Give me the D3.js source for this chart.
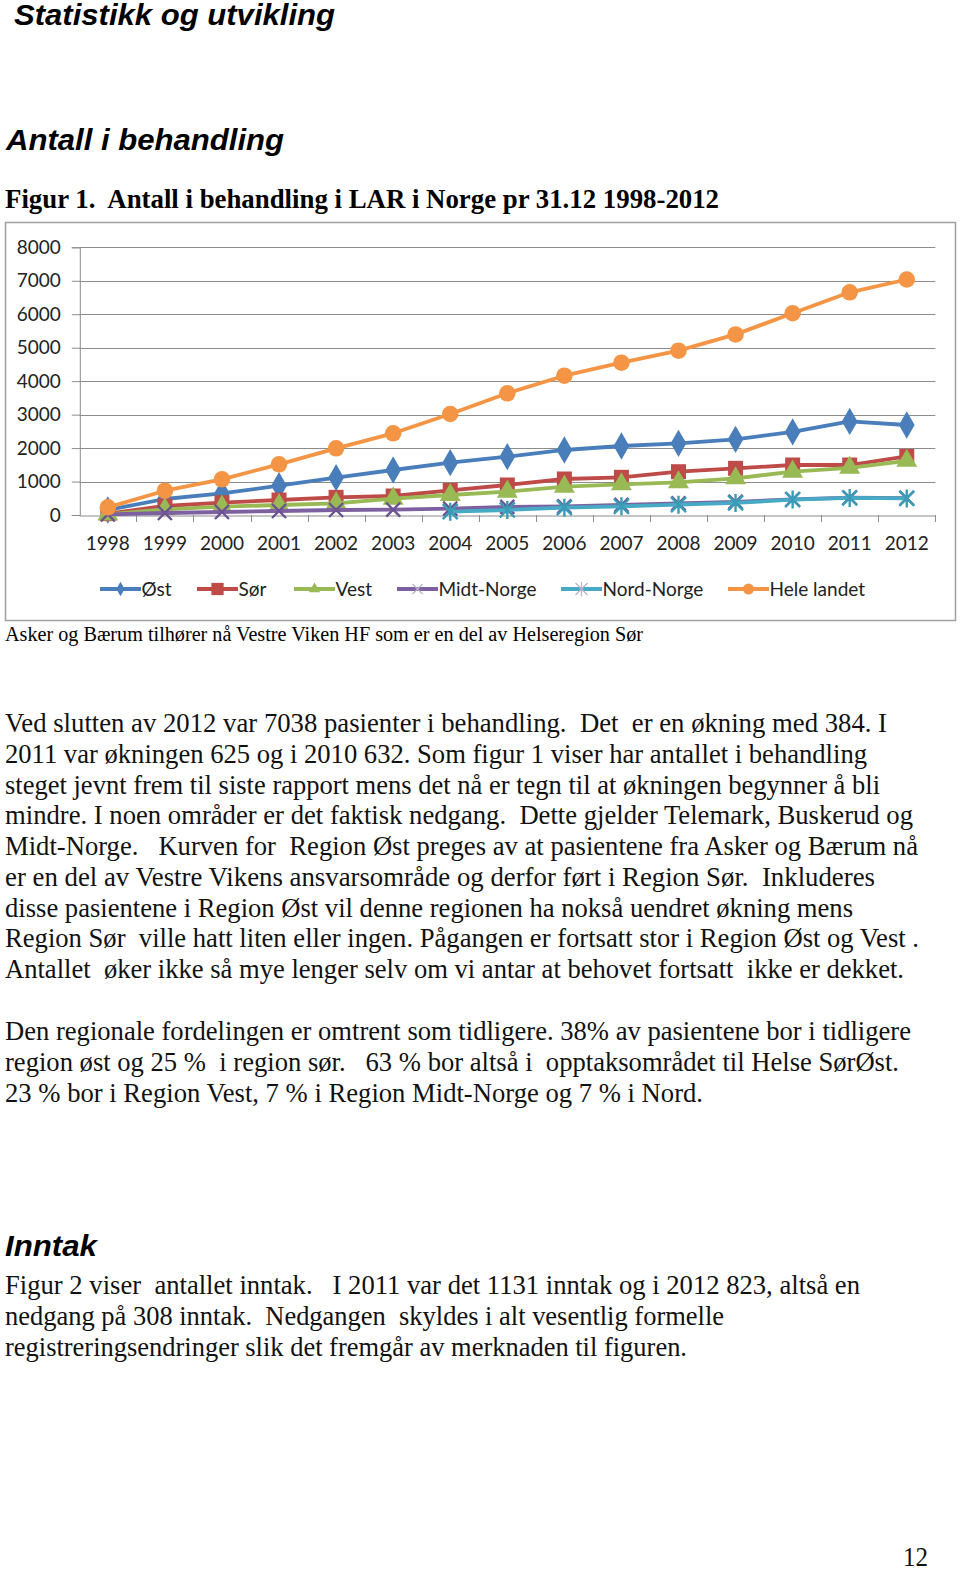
<!DOCTYPE html>
<html><head><meta charset="utf-8">
<script src="https://cdn.jsdelivr.net/npm/d3@7"></script>
<style>
html,body{margin:0;padding:0;background:#fff;}
svg text{white-space:pre;}
</style></head>
<body>
<svg id="page" width="960" height="1573"></svg>
<script>
const years = ["1998","1999","2000","2001","2002","2003","2004","2005","2006","2007","2008","2009","2010","2011","2012"];
const yTicks = [0,1000,2000,3000,4000,5000,6000,7000,8000];
const seriesNames = ["Øst","Sør","Vest","Midt-Norge","Nord-Norge","Hele landet"];
const ost   = [150, 478, 645, 876, 1116, 1345, 1564, 1743, 1943, 2062, 2142, 2261, 2481, 2795, 2690];
const sor   = [40, 269, 368, 448, 528, 568, 737, 897, 1076, 1126, 1294, 1395, 1494, 1494, 1750];
const vest  = [20, 170, 249, 299, 349, 488, 598, 697, 847, 917, 977, 1096, 1294, 1410, 1620];
const midt  = [20, 60, 90, 120, 150, 160, 190, 240, 260, 300, 350, 390, 470, 520, 505];
const nord  = [null, null, null, null, null, null, 100, 150, 220, 260, 310, 360, 460, 510, 495];
const hele  = [230, 726, 1067, 1515, 1993, 2441, 3018, 3637, 4163, 4552, 4910, 5397, 6029, 6654, 7038];

const seriesValues = [ost, sor, vest, midt, nord, hele];
const colors = ["#4A7EBB","#BE4B48","#98B954","#7D60A0","#46AAC5","#F49545"];
const markerColors = ["#4A7EBB","#BE4B48","#98B954","#6B5290","#3A9BB6","#F49545"];
const symbolTypes = ["diamond","square","triangle","x","asterisk","circle"];

const svg = d3.select("#page");

// ---------- headings ----------
svg.append("text").attr("x",14).attr("y",25)
  .attr("font-family","Liberation Sans, Arial, sans-serif").attr("font-weight","bold").attr("font-style","italic")
  .attr("font-size",29).attr("textLength",321).attr("lengthAdjust","spacingAndGlyphs")
  .text("Statistikk og utvikling");
svg.append("text").attr("x",6).attr("y",150)
  .attr("font-family","Liberation Sans, Arial, sans-serif").attr("font-weight","bold").attr("font-style","italic")
  .attr("font-size",29).attr("textLength",278).attr("lengthAdjust","spacingAndGlyphs")
  .text("Antall i behandling");
svg.append("text").attr("x",5).attr("y",208)
  .attr("font-family","Liberation Serif, Times New Roman, serif").attr("font-weight","bold")
  .attr("font-size",27).attr("textLength",714).attr("lengthAdjust","spacingAndGlyphs")
  .text("Figur 1.  Antall i behandling i LAR i Norge pr 31.12 1998-2012");

// ---------- chart frame ----------
svg.append("rect").attr("x",5.5).attr("y",222.5).attr("width",950).attr("height",398)
  .attr("fill","#fff").attr("stroke","#a0a0a0").attr("stroke-width",1.5);

const x = d3.scaleBand().domain(years).range([79.3, 935.3]).padding(0);
const y = d3.scaleLinear().domain([0,8000]).range([515, 247.3]);
const cx = d => x(d) + x.bandwidth()/2;

// gridlines
svg.append("g").selectAll("line").data(yTicks.filter(t=>t>0)).join("line")
  .attr("x1",79.3).attr("x2",935.3).attr("y1",d=>Math.round(y(d))+0.5).attr("y2",d=>Math.round(y(d))+0.5)
  .attr("stroke","#8c8c8c").attr("stroke-width",1);

// y axis
const yAxis = d3.axisLeft(y).tickValues(yTicks).tickSize(8).tickPadding(11).tickFormat(d3.format("d"));
const gy = svg.append("g").attr("transform","translate(79.8,0)").call(yAxis);
gy.selectAll("path,line").attr("stroke","#8c8c8c");
gy.selectAll("text").attr("font-family","Lato, 'Open Sans', sans-serif").attr("font-size",19).attr("fill","#222");

// x axis
const xAxis = d3.axisBottom(x).tickSize(0).tickPadding(21);
const gx = svg.append("g").attr("transform","translate(0,515.5)").call(xAxis);
gx.select("path").attr("stroke","#8c8c8c");
gx.selectAll("text").attr("font-family","Lato, 'Open Sans', sans-serif").attr("font-size",19).attr("fill","#222");
// tick marks between categories
svg.append("g").selectAll("line").data(years.map(d=>x(d)).concat([935.3]).slice(1)).join("line")
  .attr("x1",d=>Math.round(d)+0.5).attr("x2",d=>Math.round(d)+0.5).attr("y1",515).attr("y2",522)
  .attr("stroke","#8c8c8c");

// ---------- markers ----------
function markerPath(type, s) {
  const p = d3.path();
  if (type === "x") {
    p.moveTo(-s,-s); p.lineTo(s,s); p.moveTo(-s,s); p.lineTo(s,-s);
    return p.toString();
  }
  if (type === "asterisk") {
    p.moveTo(-s,-s); p.lineTo(s,s); p.moveTo(-s,s); p.lineTo(s,-s);
    p.moveTo(0,-s*1.2); p.lineTo(0,s*1.2);
    return p.toString();
  }
  const map = {diamond:d3.symbolDiamond, square:d3.symbolSquare, triangle:d3.symbolTriangle, circle:d3.symbolCircle};
  return d3.symbol().type(map[type]).size(s)();
}
const markerSize = {diamond:215, square:225, triangle:190, x:7, asterisk:7.5, circle:215};
const legendSize = {diamond:60, square:150, triangle:55, x:5, asterisk:6, circle:95};

const line = d3.line().defined(d=>d.v!==null).x(d=>cx(d.year)).y(d=>y(d.v));

seriesValues.forEach((vals,i) => {
  const data = years.map((yr,j)=>({year:yr, v:vals[j]}));
  const g = svg.append("g");
  g.append("path").datum(data).attr("d",line).attr("fill","none")
    .attr("stroke",colors[i]).attr("stroke-width",3.8).attr("stroke-linejoin","round");
  const t = symbolTypes[i];
  g.selectAll("path.m").data(data.filter(d=>d.v!==null)).join("path").attr("class","m")
    .attr("transform",d=>`translate(${cx(d.year)},${y(d.v)})`)
    .attr("d",markerPath(t, markerSize[t]))
    .attr("fill",(t==="x"||t==="asterisk")?"none":markerColors[i])
    .attr("stroke",markerColors[i])
    .attr("stroke-width",(t==="x"||t==="asterisk")?2.4:0);
});

// ---------- legend ----------
const legendX = [100, 197, 294, 397, 561, 728];
const legendY = 589;
seriesNames.forEach((name,i) => {
  const g = svg.append("g").attr("transform",`translate(${legendX[i]},${legendY})`);
  g.append("line").attr("x1",0).attr("x2",41).attr("y1",0).attr("y2",0)
    .attr("stroke",colors[i]).attr("stroke-width",4);
  const t = symbolTypes[i];
  g.append("path").attr("transform","translate(20.5,0)").attr("d",markerPath(t, legendSize[t]))
    .attr("fill",(t==="x"||t==="asterisk")?"none":colors[i])
    .attr("stroke",(t==="x"||t==="asterisk")?"#b9b0cc":colors[i])
    .attr("stroke-width",(t==="x"||t==="asterisk")?1.2:0);
  g.append("text").attr("x",41.5).attr("y",7)
    .attr("font-family","Lato, 'Open Sans', sans-serif").attr("font-size",19).attr("fill","#222")
    .text(name);
});

// ---------- caption ----------
svg.append("text").attr("x",5).attr("y",641)
  .attr("font-family","Liberation Serif, Times New Roman, serif").attr("font-size",20)
  .attr("textLength",638).attr("lengthAdjust","spacingAndGlyphs")
  .text("Asker og Bærum tilhører nå Vestre Viken HF som er en del av Helseregion Sør");

// ---------- body text ----------
const para1 = [
  ["Ved slutten av 2012 var 7038 pasienter i behandling.  Det  er en økning med 384. I", 887],
  ["2011 var økningen 625 og i 2010 632. Som figur 1 viser har antallet i behandling", 867],
  ["steget jevnt frem til siste rapport mens det nå er tegn til at økningen begynner å bli", 880],
  ["mindre. I noen områder er det faktisk nedgang.  Dette gjelder Telemark, Buskerud og", 913],
  ["Midt-Norge.   Kurven for  Region Øst preges av at pasientene fra Asker og Bærum nå", 918],
  ["er en del av Vestre Vikens ansvarsområde og derfor ført i Region Sør.  Inkluderes", 875],
  ["disse pasientene i Region Øst vil denne regionen ha nokså uendret økning mens", 853],
  ["Region Sør  ville hatt liten eller ingen. Pågangen er fortsatt stor i Region Øst og Vest .", 919],
  ["Antallet  øker ikke så mye lenger selv om vi antar at behovet fortsatt  ikke er dekket.", 904]
];
const para2 = [
  ["Den regionale fordelingen er omtrent som tidligere. 38% av pasientene bor i tidligere", 911],
  ["region øst og 25 %  i region sør.   63 % bor altså i  opptaksområdet til Helse SørØst.", 899],
  ["23 % bor i Region Vest, 7 % i Region Midt-Norge og 7 % i Nord.", 703]
];
const para3 = [
  ["Figur 2 viser  antallet inntak.   I 2011 var det 1131 inntak og i 2012 823, altså en", 860],
  ["nedgang på 308 inntak.  Nedgangen  skyldes i alt vesentlig formelle", 724],
  ["registreringsendringer slik det fremgår av merknaden til figuren.", 687]
];
function drawPara(lines, y0) {
  lines.forEach((l,i) => {
    svg.append("text").attr("x",5).attr("y",y0 + i*30.75)
      .attr("font-family","Liberation Serif, Times New Roman, serif").attr("font-size",27).attr("fill","#111")
      .attr("textLength",l[1]-5).attr("lengthAdjust","spacingAndGlyphs")
      .text(l[0]);
  });
}
drawPara(para1, 732);
drawPara(para2, 1040);
drawPara(para3, 1294);

svg.append("text").attr("x",5).attr("y",1256)
  .attr("font-family","Liberation Sans, Arial, sans-serif").attr("font-weight","bold").attr("font-style","italic")
  .attr("font-size",29).attr("textLength",92).attr("lengthAdjust","spacingAndGlyphs")
  .text("Inntak");
svg.append("text").attr("x",903).attr("y",1566)
  .attr("font-family","Liberation Serif, Times New Roman, serif").attr("font-size",27).attr("fill","#111")
  .attr("textLength",25).attr("lengthAdjust","spacingAndGlyphs")
  .text("12");
</script>
</body></html>
